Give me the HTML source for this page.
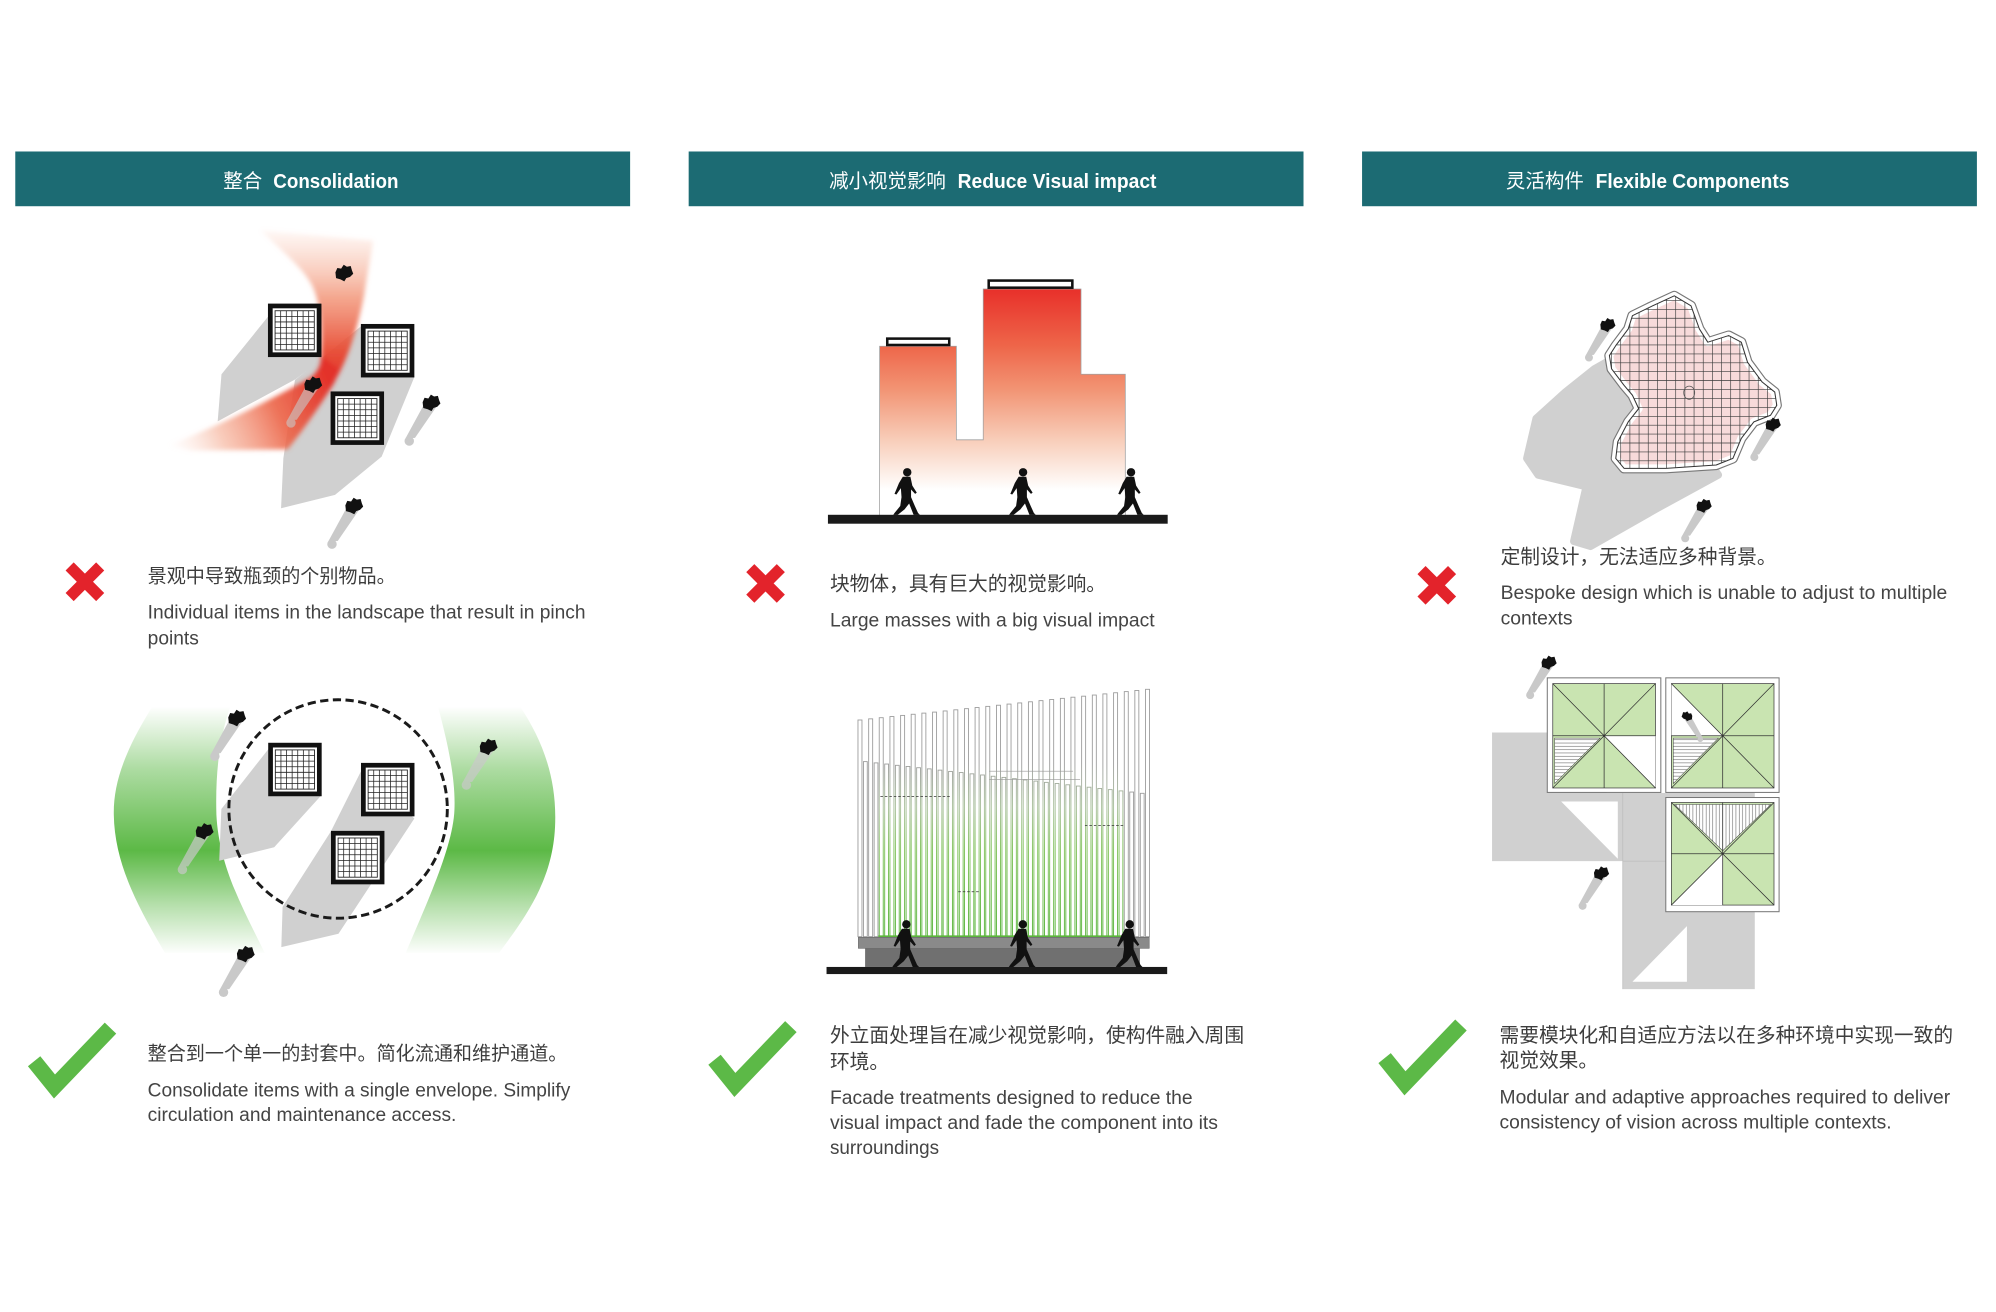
<!DOCTYPE html>
<html><head><meta charset="utf-8">
<style>
html,body{margin:0;padding:0;background:#fff;}
svg{display:block;}
.cn{font-family:"Liberation Sans","Noto Sans CJK SC",sans-serif;}
.en{font-family:"Liberation Sans",sans-serif;}
</style></head><body>
<svg xmlns="http://www.w3.org/2000/svg" xmlns:xlink="http://www.w3.org/1999/xlink" width="1996" height="1312" viewBox="0 0 1568 1030.66">
<defs>
  <linearGradient id="bandV" gradientUnits="userSpaceOnUse" x1="0" y1="180" x2="0" y2="300">
    <stop offset="0" stop-color="#f8b9a0" stop-opacity="0.1"/>
    <stop offset="0.45" stop-color="#f08868" stop-opacity="0.75"/>
    <stop offset="0.8" stop-color="#e84a32" stop-opacity="0.95"/>
    <stop offset="1" stop-color="#e3312a" stop-opacity="1"/>
  </linearGradient>
  <linearGradient id="bandF" gradientUnits="userSpaceOnUse" x1="258" y1="295" x2="132" y2="352">
    <stop offset="0" stop-color="#e3312a" stop-opacity="1"/>
    <stop offset="0.35" stop-color="#ec6447" stop-opacity="0.9"/>
    <stop offset="0.7" stop-color="#f4a386" stop-opacity="0.55"/>
    <stop offset="1" stop-color="#fbd9cc" stop-opacity="0"/>
  </linearGradient>
  <linearGradient id="bld" gradientUnits="userSpaceOnUse" x1="0" y1="227" x2="0" y2="385">
    <stop offset="0" stop-color="#e8302a"/>
    <stop offset="0.28" stop-color="#ee6549"/>
    <stop offset="0.5" stop-color="#f29474"/>
    <stop offset="0.75" stop-color="#f8cdb9"/>
    <stop offset="1" stop-color="#ffffff"/>
  </linearGradient>
  <linearGradient id="grn" gradientUnits="userSpaceOnUse" x1="0" y1="555" x2="0" y2="750">
    <stop offset="0" stop-color="#5cb946" stop-opacity="0"/>
    <stop offset="0.25" stop-color="#5cb946" stop-opacity="0.5"/>
    <stop offset="0.58" stop-color="#5cb946" stop-opacity="1"/>
    <stop offset="0.8" stop-color="#5cb946" stop-opacity="0.45"/>
    <stop offset="1" stop-color="#5cb946" stop-opacity="0"/>
  </linearGradient>
  <linearGradient id="gpole" gradientUnits="userSpaceOnUse" x1="0" y1="600" x2="0" y2="736">
    <stop offset="0" stop-color="#9c9c9c"/>
    <stop offset="0.25" stop-color="#a6be98"/>
    <stop offset="0.5" stop-color="#7cc055"/>
    <stop offset="1" stop-color="#4fb030"/>
  </linearGradient>
  <filter id="blur" x="-20%" y="-20%" width="140%" height="140%"><feGaussianBlur stdDeviation="1.8"/></filter>
  <pattern id="hatchH" width="4" height="2.6" patternUnits="userSpaceOnUse"><rect width="4" height="2.6" fill="#fff"/><line x1="0" y1="1.3" x2="4" y2="1.3" stroke="#666" stroke-width="0.45"/></pattern>
  <pattern id="hatchV" width="2.6" height="4" patternUnits="userSpaceOnUse"><rect width="2.6" height="4" fill="#fff"/><line x1="1.3" y1="0" x2="1.3" y2="4" stroke="#666" stroke-width="0.45"/></pattern>
  <g id="tbl">
    <rect x="1.85" y="1.85" width="38.3" height="38.3" fill="#fff" stroke="#111" stroke-width="3.7"/>
    <rect x="5.6" y="5.6" width="30.8" height="30.8" fill="none" stroke="#222" stroke-width="0.7"/>
    <path d="M10,5.6V36.4M14.4,5.6V36.4M18.8,5.6V36.4M23.2,5.6V36.4M27.6,5.6V36.4M32,5.6V36.4M5.6,10H36.4M5.6,14.4H36.4M5.6,18.8H36.4M5.6,23.2H36.4M5.6,27.6H36.4M5.6,32H36.4" stroke="#222" stroke-width="0.6"/>
  </g>
  <g id="psh"><path d="M-5,0 L5,1.5 L-12.5,27 L-20,27.5 Z" fill="#c9c9c9"/><circle cx="-17" cy="29.5" r="3.7" fill="#c9c9c9"/></g>
  <path id="pbd" d="M-6.5,-1 L-5,-4.5 L-2,-4 L0,-7 L2.5,-5.5 L5.5,-6 L6.5,-2.5 L7.5,0 L5,2.5 L2,3.5 L0.5,6 L-2.5,4.5 L-6,3.5 Z" fill="#111"/>
  <g id="wk" fill="#111"><circle cx="2" cy="-33.5" r="3.3"/><path d="M-1.5,-30 L4.5,-30 L6,-23 L9.5,-17.5 L8.2,-16.5 L5,-20 L5,-14 L8,-7 L10.5,-1.5 L12,0 L7,0 L3.5,-9 L0,-4.5 L-5.5,0 L-9,0 L-8,-1.5 L-3.5,-7 L-2.5,-14 L-3,-21 L-6.5,-16 L-8,-16.5 L-4.5,-25 Z"/></g>
  <path id="xm" d="M-12,-12 L12,12 M12,-12 L-12,12" stroke="#e3232b" stroke-width="9" fill="none"/>
  <clipPath id="blobclip"><polygon points="1315.3,232.4 1328.4,240.2 1335,258.4 1341.6,268.8 1358,263.6 1367.9,268.8 1372.8,284.5 1384.3,300.1 1394.2,308 1395.8,318.4 1390.9,326.2 1377.8,331.4 1367.9,344.4 1361.3,360.1 1348.2,365.3 1308.7,367.9 1275.8,367.9 1269.3,360.1 1270.9,347 1279.1,331.4 1287.3,321 1282.4,310.5 1275.8,302.7 1266,289.7 1264.3,279.3 1269.3,271.5 1279.1,258.4 1282.4,248 1295.6,241.5"/></clipPath>
</defs>

<!-- Headers -->
<rect x="12" y="119" width="483" height="43" fill="#1c6b73"/>
<rect x="541" y="119" width="483" height="43" fill="#1c6b73"/>
<rect x="1070" y="119" width="483" height="43" fill="#1c6b73"/>
<text x="175.4" y="147.3" class="cn" font-size="15.3" fill="#fff">整合</text>
<text x="214.7" y="147.7" class="en" font-size="16" font-weight="bold" fill="#fff" textLength="98.3" lengthAdjust="spacingAndGlyphs">Consolidation</text>
<text x="651.3" y="147.3" class="cn" font-size="15.3" fill="#fff">减小视觉影响</text>
<text x="752.3" y="147.7" class="en" font-size="16" font-weight="bold" fill="#fff" textLength="156.2" lengthAdjust="spacingAndGlyphs">Reduce Visual impact</text>
<text x="1183" y="147.3" class="cn" font-size="15.3" fill="#fff">灵活构件</text>
<text x="1253.5" y="147.7" class="en" font-size="16" font-weight="bold" fill="#fff" textLength="152.2" lengthAdjust="spacingAndGlyphs">Flexible Components</text>

<!-- Panel 1 top -->
<polygon points="215,239 253,239 253,282 232,298 171,331 174,294 212,247" fill="#d0d0d0"/>
<polygon points="284,256 325.6,296 299.8,358.7 263.2,388.8 220.8,399.3 222.6,360 231.7,298.5" fill="#d0d0d0"/>
<g filter="url(#blur)">
  <path d="M205,181 C222,198 240,212 246,226 C253,242 253,265 252,283 C251,292 246,297 240,300 L262,301 C272,285 280,262 286,232 C289,212 292,198 293,189 Z" fill="url(#bandV)"/>
  <path d="M253,280 C251,292 246,296 238,300 C205,318 170,335 132,350 L150,354 L226,353 C238,338 252,318 263,300 L266,290 Z" fill="url(#bandF)"/>
</g>
<use xlink:href="#tbl" x="210.5" y="238.5"/>
<use xlink:href="#tbl" x="283.5" y="254.5"/>
<use xlink:href="#tbl" x="259.7" y="307.5"/>
<g transform="translate(270,215)"><use xlink:href="#pbd"/></g>
<g transform="translate(245.6,302.7)"><use xlink:href="#psh" opacity="0.6"/><use xlink:href="#pbd"/></g>
<g transform="translate(338.5,317)"><use xlink:href="#psh"/><use xlink:href="#pbd"/></g>
<g transform="translate(277.8,398)"><use xlink:href="#psh"/><use xlink:href="#pbd"/></g>

<use xlink:href="#xm" transform="translate(66.7,457)"/>
<text x="116" y="457.7" class="cn" font-size="15" fill="#3d3d3d">景观中导致瓶颈的个别物品。</text>
<text x="116" y="486" class="en" font-size="15.5" fill="#444" textLength="344" lengthAdjust="spacingAndGlyphs">Individual items in the landscape that result in pinch</text>
<text x="116" y="506.2" class="en" font-size="15.5" fill="#444" textLength="40.2" lengthAdjust="spacingAndGlyphs">points</text>

<!-- Panel 1 bottom -->
<path d="M119.4,555.5 C98,590 89,615 89.4,640 C90,680 110,715 129.6,748.6 L208,748.6 C190,712 172,680 170,640 C169,605 173,578 180.7,555.5 Z" fill="url(#grn)"/>
<path d="M344.2,555.5 C352,585 358,612 357,636 C356,665 335,710 318.7,748.6 L391.9,748.6 C415,718 434,690 436,650 C438,610 425,580 408.9,555.5 Z" fill="url(#grn)"/>
<polygon points="213,585.7 173.9,635.5 172.2,676.2 215.4,665.6 252.3,624.9 252.3,585.7" fill="#d0d0d0"/>
<polygon points="284.6,603.8 325.5,643 265.9,733.5 221,744 222,712.4 260,653" fill="#d0d0d0"/>
<circle cx="265.6" cy="635.5" r="85.8" fill="none" stroke="#1a1a1a" stroke-width="2.3" stroke-dasharray="6.5 3.5"/>
<use xlink:href="#tbl" x="210.7" y="583.5"/>
<use xlink:href="#tbl" x="283.6" y="599.3"/>
<use xlink:href="#tbl" x="260" y="652.7"/>
<g transform="translate(185.8,564.6)"><use xlink:href="#psh"/><use xlink:href="#pbd"/></g>
<g transform="translate(160.3,653.6)"><use xlink:href="#psh" opacity="0.7"/><use xlink:href="#pbd"/></g>
<g transform="translate(383.4,587.2)"><use xlink:href="#psh" opacity="0.7"/><use xlink:href="#pbd"/></g>
<g transform="translate(192.6,750)"><use xlink:href="#psh"/><use xlink:href="#pbd"/></g>

<polyline points="26.8,833.7 42.8,853.5 86.8,807.7" fill="none" stroke="#5cb947" stroke-width="12.5" stroke-linejoin="miter"/>
<text x="116" y="832.7" class="cn" font-size="15" fill="#3d3d3d">整合到一个单一的封套中。简化流通和维护通道。</text>
<text x="116" y="861.3" class="en" font-size="15.5" fill="#444" textLength="332" lengthAdjust="spacingAndGlyphs">Consolidate items with a single envelope. Simplify</text>
<text x="116" y="880.7" class="en" font-size="15.5" fill="#444" textLength="242.5" lengthAdjust="spacingAndGlyphs">circulation and maintenance access.</text>

<!-- Panel 2 top -->
<polygon points="691,405.7 691,272 751.3,272 751.3,345.5 772.4,345.5 772.4,227 849.2,227 849.2,294 884,294 884,405.7" fill="url(#bld)" stroke="#a0a0a0" stroke-width="0.6"/>
<rect x="697" y="266" width="48.7" height="5" fill="#fff" stroke="#111" stroke-width="2"/>
<rect x="776.7" y="220.4" width="65.7" height="5.6" fill="#fff" stroke="#111" stroke-width="2"/>
<use xlink:href="#wk" transform="translate(710.7,404.5)"/>
<use xlink:href="#wk" transform="translate(801.7,404.5)"/>
<use xlink:href="#wk" transform="translate(886.5,404.5)"/>
<rect x="650.4" y="404.4" width="266.9" height="7" fill="#1a1a1a"/>

<use xlink:href="#xm" transform="translate(601.4,458.3)"/>
<text x="652" y="463.7" class="cn" font-size="15.5" fill="#3d3d3d">块物体，具有巨大的视觉影响。</text>
<text x="652" y="492.2" class="en" font-size="15.5" fill="#444" textLength="255" lengthAdjust="spacingAndGlyphs">Large masses with a big visual impact</text>

<!-- Panel 2 bottom: fence -->
<g fill="#fff" stroke-width="0.7">
  <g stroke="#9c9c9c">
    <rect x="674.0" y="565.6" width="3.14" height="170.2"/>
    <rect x="682.4" y="564.7" width="3.14" height="171.1"/>
    <rect x="883.2" y="543.3" width="3.14" height="192.5"/>
    <rect x="891.5" y="542.4" width="3.14" height="193.4"/>
    <rect x="899.9" y="541.5" width="3.14" height="194.3"/>
  </g>
  <g stroke="url(#gpole)">
    <rect x="690.7" y="563.8" width="3.14" height="172.0"/>
    <rect x="699.1" y="562.9" width="3.14" height="172.9"/>
    <rect x="707.5" y="562.0" width="3.14" height="173.8"/>
    <rect x="715.8" y="561.1" width="3.14" height="174.7"/>
    <rect x="724.2" y="560.2" width="3.14" height="175.6"/>
    <rect x="732.6" y="559.4" width="3.14" height="176.4"/>
    <rect x="740.9" y="558.5" width="3.14" height="177.3"/>
    <rect x="749.3" y="557.6" width="3.14" height="178.2"/>
    <rect x="757.7" y="556.7" width="3.14" height="179.1"/>
    <rect x="766.0" y="555.8" width="3.14" height="180.0"/>
    <rect x="774.4" y="554.9" width="3.14" height="180.9"/>
    <rect x="782.8" y="554.0" width="3.14" height="181.8"/>
    <rect x="791.1" y="553.1" width="3.14" height="182.7"/>
    <rect x="799.5" y="552.2" width="3.14" height="183.6"/>
    <rect x="807.9" y="551.3" width="3.14" height="184.5"/>
    <rect x="816.2" y="550.4" width="3.14" height="185.4"/>
    <rect x="824.6" y="549.5" width="3.14" height="186.3"/>
    <rect x="833.0" y="548.6" width="3.14" height="187.2"/>
    <rect x="841.3" y="547.7" width="3.14" height="188.1"/>
    <rect x="849.7" y="546.9" width="3.14" height="188.9"/>
    <rect x="858.1" y="546.0" width="3.14" height="189.8"/>
    <rect x="866.4" y="545.1" width="3.14" height="190.7"/>
    <rect x="874.8" y="544.2" width="3.14" height="191.6"/>
  </g>
  <g stroke="#9c9c9c">
    <rect x="678.3" y="598.3" width="3" height="137.5"/>
    <rect x="686.7" y="599.3" width="3" height="136.5"/>
    <rect x="887.5" y="622.2" width="3" height="113.6"/>
    <rect x="895.8" y="623.2" width="3" height="112.6"/>
  </g>
  <g stroke="url(#gpole)">
    <rect x="695.0" y="600.2" width="3" height="135.6"/>
    <rect x="703.4" y="601.2" width="3" height="134.6"/>
    <rect x="711.8" y="602.1" width="3" height="133.7"/>
    <rect x="720.1" y="603.1" width="3" height="132.7"/>
    <rect x="728.5" y="604.0" width="3" height="131.8"/>
    <rect x="736.9" y="605.0" width="3" height="130.8"/>
    <rect x="745.2" y="606.0" width="3" height="129.8"/>
    <rect x="753.6" y="606.9" width="3" height="128.9"/>
    <rect x="762.0" y="607.9" width="3" height="127.9"/>
    <rect x="770.3" y="608.8" width="3" height="127.0"/>
    <rect x="778.7" y="609.8" width="3" height="126.0"/>
    <rect x="787.1" y="610.7" width="3" height="125.1"/>
    <rect x="795.4" y="611.7" width="3" height="124.1"/>
    <rect x="803.8" y="612.7" width="3" height="123.1"/>
    <rect x="812.2" y="613.6" width="3" height="122.2"/>
    <rect x="820.5" y="614.6" width="3" height="121.2"/>
    <rect x="828.9" y="615.5" width="3" height="120.3"/>
    <rect x="837.3" y="616.5" width="3" height="119.3"/>
    <rect x="845.6" y="617.5" width="3" height="118.3"/>
    <rect x="854.0" y="618.4" width="3" height="117.4"/>
    <rect x="862.4" y="619.4" width="3" height="116.4"/>
    <rect x="870.7" y="620.3" width="3" height="115.5"/>
    <rect x="879.1" y="621.3" width="3" height="114.5"/>
  </g>
</g>
<path d="M691.6,625.8 H746.6 M852.3,648.6 H883.7 M752.8,700.5 H769.8" stroke="#333" stroke-width="0.6" stroke-dasharray="2 1.5" fill="none"/>
<path d="M777,605.8 H843 M777,612.3 H848.5" stroke="#999" stroke-width="0.5" fill="none"/>
<line x1="690" y1="735.5" x2="884" y2="735.5" stroke="#5cb63c" stroke-width="1.4"/>
<rect x="674.3" y="736.3" width="228.5" height="8.7" fill="#8a8a8a" stroke="#5a5a5a" stroke-width="0.4"/>
<rect x="679.6" y="745" width="215.9" height="14.6" fill="#707070"/>
<use xlink:href="#wk" transform="translate(710,759.6)"/>
<use xlink:href="#wk" transform="translate(801.5,759.6)"/>
<use xlink:href="#wk" transform="translate(885.5,759.6)"/>
<rect x="649.3" y="759.6" width="267.6" height="5.6" fill="#1a1a1a"/>

<polyline points="561.3,832.5 577.3,852.3 621.3,806.5" fill="none" stroke="#5cb947" stroke-width="12.5" stroke-linejoin="miter"/>
<text x="652" y="818.7" class="cn" font-size="15.5" fill="#3d3d3d">外立面处理旨在减少视觉影响，使构件融入周围</text>
<text x="652" y="839.3" class="cn" font-size="15.5" fill="#3d3d3d">环境。</text>
<text x="652" y="867.1" class="en" font-size="15.5" fill="#444" textLength="284.9" lengthAdjust="spacingAndGlyphs">Facade treatments designed to reduce the</text>
<text x="652" y="887" class="en" font-size="15.5" fill="#444" textLength="304.8" lengthAdjust="spacingAndGlyphs">visual impact and fade the component into its</text>
<text x="652" y="906.7" class="en" font-size="15.5" fill="#444" textLength="85.7" lengthAdjust="spacingAndGlyphs">surroundings</text>

<!-- Panel 3 top -->
<polygon points="1252.8,289.7 1229.8,308 1206.8,328.8 1199.5,360.1 1208.4,373.1 1246.2,382.2 1236.4,425.2 1249.5,429.1 1302.1,399.1 1349.8,373.1 1320,330 1270,280" fill="#d0d0d0" stroke="#d0d0d0" stroke-width="6" stroke-linejoin="round"/>
<polygon points="1315.3,232.4 1328.4,240.2 1335,258.4 1341.6,268.8 1358,263.6 1367.9,268.8 1372.8,284.5 1384.3,300.1 1394.2,308 1395.8,318.4 1390.9,326.2 1377.8,331.4 1367.9,344.4 1361.3,360.1 1348.2,365.3 1308.7,367.9 1275.8,367.9 1269.3,360.1 1270.9,347 1279.1,331.4 1287.3,321 1282.4,310.5 1275.8,302.7 1266,289.7 1264.3,279.3 1269.3,271.5 1279.1,258.4 1282.4,248 1295.6,241.5" fill="#fff" stroke="#777" stroke-width="8" stroke-linejoin="round"/>
<polygon points="1315.3,232.4 1328.4,240.2 1335,258.4 1341.6,268.8 1358,263.6 1367.9,268.8 1372.8,284.5 1384.3,300.1 1394.2,308 1395.8,318.4 1390.9,326.2 1377.8,331.4 1367.9,344.4 1361.3,360.1 1348.2,365.3 1308.7,367.9 1275.8,367.9 1269.3,360.1 1270.9,347 1279.1,331.4 1287.3,321 1282.4,310.5 1275.8,302.7 1266,289.7 1264.3,279.3 1269.3,271.5 1279.1,258.4 1282.4,248 1295.6,241.5" fill="#f7dada" stroke="#fff" stroke-width="6.2" stroke-linejoin="round"/>
<g clip-path="url(#blobclip)" stroke="#3a3a3a" stroke-width="0.5">
  <path d="M1266,230V372M1273.2,230V372M1280.4,230V372M1287.6,230V372M1294.8,230V372M1302,230V372M1309.2,230V372M1316.4,230V372M1323.6,230V372M1330.8,230V372M1338,230V372M1345.2,230V372M1352.4,230V372M1359.6,230V372M1366.8,230V372M1374,230V372M1381.2,230V372M1388.4,230V372M1395.6,230V372"/>
  <path d="M1260,236H1400M1260,243H1400M1260,250H1400M1260,257H1400M1260,264H1400M1260,271H1400M1260,278H1400M1260,285H1400M1260,292H1400M1260,299H1400M1260,306H1400M1260,313H1400M1260,320H1400M1260,327H1400M1260,334H1400M1260,341H1400M1260,348H1400M1260,355H1400M1260,362H1400"/>
</g>
<polygon points="1315.3,232.4 1328.4,240.2 1335,258.4 1341.6,268.8 1358,263.6 1367.9,268.8 1372.8,284.5 1384.3,300.1 1394.2,308 1395.8,318.4 1390.9,326.2 1377.8,331.4 1367.9,344.4 1361.3,360.1 1348.2,365.3 1308.7,367.9 1275.8,367.9 1269.3,360.1 1270.9,347 1279.1,331.4 1287.3,321 1282.4,310.5 1275.8,302.7 1266,289.7 1264.3,279.3 1269.3,271.5 1279.1,258.4 1282.4,248 1295.6,241.5" fill="none" stroke="#333" stroke-width="0.8" stroke-linejoin="round"/>
<ellipse cx="1327" cy="308.5" rx="4.3" ry="5.2" fill="none" stroke="#555" stroke-width="0.6"/>
<g transform="translate(1262.7,255.8) scale(0.85)"><use xlink:href="#psh"/><use xlink:href="#pbd"/></g>
<g transform="translate(1392.6,334) scale(0.85)"><use xlink:href="#psh"/><use xlink:href="#pbd"/></g>
<g transform="translate(1338.3,397.8) scale(0.85)"><use xlink:href="#psh"/><use xlink:href="#pbd"/></g>

<use xlink:href="#xm" transform="translate(1128.7,459.8)"/>
<text x="1178.8" y="442.7" class="cn" font-size="15.5" fill="#3d3d3d">定制设计，无法适应多种背景。</text>
<text x="1178.8" y="470.7" class="en" font-size="15.5" fill="#444" textLength="350.9" lengthAdjust="spacingAndGlyphs">Bespoke design which is unable to adjust to multiple</text>
<text x="1178.8" y="490.7" class="en" font-size="15.5" fill="#444" textLength="56.6" lengthAdjust="spacingAndGlyphs">contexts</text>

<!-- Panel 3 bottom -->
<polygon points="1172.1,575.4 1262,575.4 1262,623 1378.5,623 1378.5,777 1274.8,777 1274.8,676.5 1172.1,676.5" fill="#d0d0d0"/>
<polygon points="1226.4,629.6 1270.9,629.6 1270.9,674.6" fill="#fff"/>
<polygon points="1325.2,727.5 1325.2,771.2 1282.4,771.2" fill="#fff"/>
<path d="M1274.8,623 V777 M1274.8,676.5 H1378.5" stroke="#bdbdbd" stroke-width="0.6" fill="none"/>

<!-- Module 1 -->
<rect x="1215.5" y="532.5" width="89.2" height="90" fill="#fff" stroke="#777" stroke-width="0.8"/>
<rect x="1219.8" y="537" width="80.7" height="82" fill="#c9e4b1" stroke="#444" stroke-width="0.6"/>
<polygon points="1260.15,578 1300.5,578 1300.5,619" fill="#fff"/>
<polygon points="1257,579.8 1221.3,579.8 1221.3,615.5" fill="url(#hatchH)" stroke="#444" stroke-width="0.4"/>
<path d="M1219.8,537 L1300.5,619 M1300.5,537 L1219.8,619 M1260.15,537 V619 M1219.8,578 H1300.5" stroke="#333" stroke-width="0.6" fill="none"/>
<!-- Module 2 -->
<rect x="1308.6" y="532.5" width="89" height="90" fill="#fff" stroke="#777" stroke-width="0.8"/>
<rect x="1313" y="537" width="80.6" height="82" fill="#c9e4b1" stroke="#444" stroke-width="0.6"/>
<polygon points="1353.3,578 1313,537 1313,578" fill="#fff"/>
<polygon points="1350,579.8 1314.5,579.8 1314.5,615.5" fill="url(#hatchH)" stroke="#444" stroke-width="0.4"/>
<path d="M1313,537 L1393.6,619 M1393.6,537 L1313,619 M1353.3,537 V619 M1313,578 H1393.6" stroke="#333" stroke-width="0.6" fill="none"/>
<!-- Module 3 -->
<rect x="1308.6" y="626.5" width="89" height="89.7" fill="#fff" stroke="#777" stroke-width="0.8"/>
<rect x="1313" y="630.4" width="80.6" height="80.6" fill="#c9e4b1" stroke="#444" stroke-width="0.6"/>
<polygon points="1315.5,632 1391.1,632 1353.3,668.3" fill="url(#hatchV)" stroke="#444" stroke-width="0.4"/>
<polygon points="1353.3,670.7 1353.3,711 1313,711" fill="#fff"/>
<path d="M1313,630.4 L1393.6,711 M1393.6,630.4 L1313,711 M1353.3,630.4 V711 M1313,670.7 H1393.6" stroke="#333" stroke-width="0.6" fill="none"/>

<g transform="translate(1216.5,521) scale(0.85)"><use xlink:href="#psh"/><use xlink:href="#pbd"/></g>
<g transform="translate(1325.5,563) scale(-0.6,0.6)"><use xlink:href="#psh"/><use xlink:href="#pbd"/></g>
<g transform="translate(1257.7,686.5) scale(0.85)"><use xlink:href="#psh"/><use xlink:href="#pbd"/></g>

<polyline points="1087.7,831.2 1103.7,851 1147.7,805.2" fill="none" stroke="#5cb947" stroke-width="12.5" stroke-linejoin="miter"/>
<text x="1178" y="818.7" class="cn" font-size="15.5" fill="#3d3d3d">需要模块化和自适应方法以在多种环境中实现一致的</text>
<text x="1178" y="838.3" class="cn" font-size="15.5" fill="#3d3d3d">视觉效果。</text>
<text x="1178" y="866.7" class="en" font-size="15.5" fill="#444" textLength="354" lengthAdjust="spacingAndGlyphs">Modular and adaptive approaches required to deliver</text>
<text x="1178" y="886.7" class="en" font-size="15.5" fill="#444" textLength="308" lengthAdjust="spacingAndGlyphs">consistency of vision across multiple contexts.</text>
</svg>
</body></html>
